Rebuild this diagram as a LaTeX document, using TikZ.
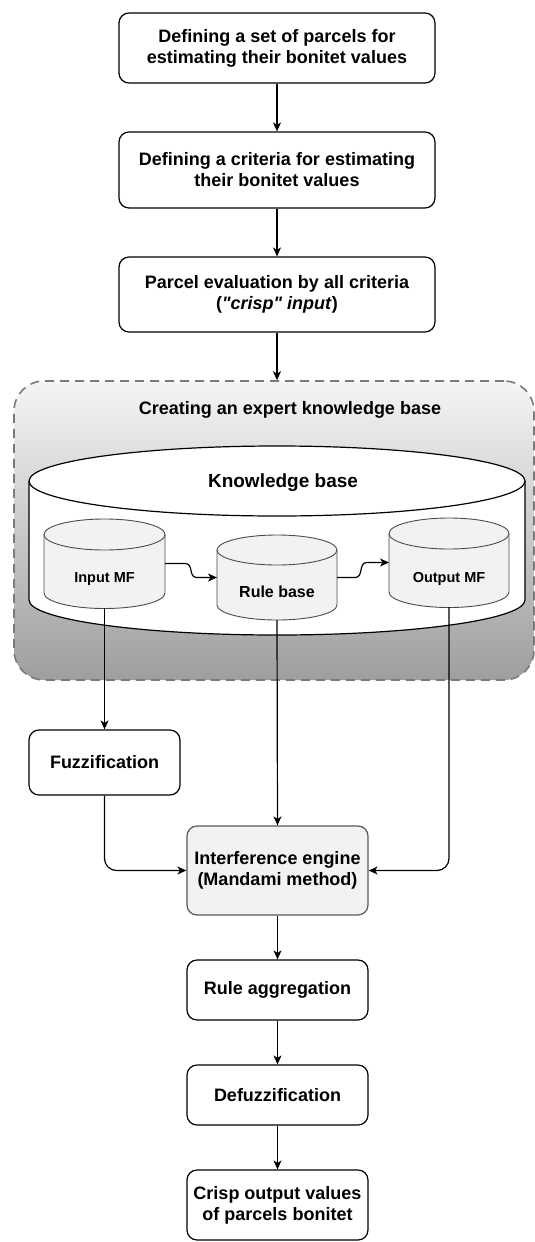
\documentclass[tikz,border=0pt]{standalone}
\usepackage{fontspec}
\setmainfont{Liberation Sans}[Ligatures=TeXOff]
\usetikzlibrary{arrows.meta,calc}
\definecolor{lightfill}{HTML}{F2F2F2}
\definecolor{dashgray}{HTML}{7A7A7A}
\newcommand\cylinderat[6]{%
  \path[#1,draw=none] ({#2-#3},#4) -- ({#2-#3},#5) .. controls ({#2-#3},{#5+0.5523*#6}) and ({#2-0.5523*#3},{#5+#6}) .. ({#2},{#5+#6}) .. controls ({#2+0.5523*#3},{#5+#6}) and ({#2+#3},{#5+0.5523*#6}) .. ({#2+#3},#5) -- ({#2+#3},#4) -- cycle;
  \path[#1,fill=none] ({#2-#3},#4) -- ({#2-#3},#5) .. controls ({#2-#3},{#5+0.5523*#6}) and ({#2-0.5523*#3},{#5+#6}) .. ({#2},{#5+#6}) .. controls ({#2+0.5523*#3},{#5+#6}) and ({#2+#3},{#5+0.5523*#6}) .. ({#2+#3},#5) -- ({#2+#3},#4);
  \path[#1] (#2,#4) ellipse [x radius=#3pt, y radius=#6pt];
}
\begin{document}
\begin{tikzpicture}[x=1pt,y=-1pt,
  box/.style={draw=black, line width=1.2pt, rounded corners=10pt, fill=white, align=center, inner sep=0pt,
    font=\bfseries\fontsize{18}{21}\selectfont},
  graybox/.style={box, fill=lightfill, draw=black!65},
  lbl/.style={font=\bfseries\fontsize{18}{21}\selectfont, inner sep=0pt, align=center},
  smalllbl/.style={font=\bfseries\fontsize{14.5}{17}\selectfont, inner sep=0pt},
  bigcyl/.style={draw=black, line width=1.2pt, fill=white},
  smallcyl/.style={draw=black!70, line width=0.9pt, fill=lightfill},
  region/.style={inner sep=0pt, outer sep=0pt},
  container/.style={draw=dashgray, line width=1.6pt, dash pattern=on 9pt off 6pt, rounded corners=30pt,
    top color=black!4, bottom color=black!38, inner sep=0pt},
  conn/.style={line width=1.2pt, -{Stealth[length=9pt,width=8pt,inset=2.5pt]}}
]
\useasboundingbox (0,0) rectangle (535,1242);

% top boxes
\node[box, minimum width=316pt, minimum height=70pt] (b1) at (277,48)
  {Defining a set of parcels for\\estimating their bonitet values};
\node[box, minimum width=316pt, minimum height=76pt] (b2) at (277,170)
  {Defining a criteria for estimating\\their bonitet values};
\node[box, minimum width=316pt, minimum height=75pt] (b3) at (277,294.5)
  {Parcel evaluation by all criteria\\(\textit{"crisp" input})};

% container
\node[container, minimum width=520pt, minimum height=299pt] (kb) at (274,530.5) {};
\node[lbl] (kbtitle) at (290,410) {Creating an expert knowledge base};

% big cylinder
\cylinderat{bigcyl}{277}{248}{481}{600}{35}
\node[region, minimum width=496pt, minimum height=189pt] (kbcyl) at (277,540.5) {};
\node[font=\bfseries\fontsize{19}{22}\selectfont, inner sep=0pt] (kbtext) at (283,483) {Knowledge base};

% small cylinders
\cylinderat{smallcyl}{104.5}{60.5}{534.5}{593}{15.5}
\cylinderat{smallcyl}{277}{60}{550}{605}{15}
\cylinderat{smallcyl}{449}{60}{533.5}{592}{15.5}
\node[region, minimum width=121pt, minimum height=89pt] (inmf) at (104.5,563.5) {};
\node[region, minimum width=120pt, minimum height=85pt] (rulebase) at (277,577.5) {};
\node[region, minimum width=120pt, minimum height=89pt] (outmf) at (449,562.5) {};
\node[smalllbl] (inmftext) at (104.5,579) {Input MF};
\node[font=\bfseries\fontsize{16}{19}\selectfont, inner sep=0pt] (rbtext) at (277,592) {Rule base};
\node[smalllbl] (outmftext) at (449,579) {Output MF};

% lower boxes
\node[box, minimum width=151pt, minimum height=65pt] (fuzz) at (104.5,762.5) {Fuzzification};
\node[graybox, minimum width=181pt, minimum height=89pt] (interf) at (277.5,870.5)
  {Interference engine\\(Mandami method)};
\node[box, minimum width=181pt, minimum height=60pt] (ragg) at (277.5,990) {Rule aggregation};
\node[box, minimum width=181pt, minimum height=60pt] (defuzz) at (277.5,1095) {Defuzzification};
\node[box, minimum width=181pt, minimum height=70pt] (crisp) at (277.5,1205)
  {Crisp output values\\of parcels bonitet};

% connectors
\draw[conn] (b1) -- (b2);
\draw[conn] (b2) -- (b3);
\draw[conn] (b3.south) -- (b3.south |- kb.north);
\draw[conn] (inmf.east) -- (185,563.5) .. controls (194,563.5) and (188,577.5) .. (197,577.5) -- (rulebase.west);
\draw[conn] (rulebase.east) -- (355,577.5) .. controls (364,577.5) and (358,562.5) .. (367,562.5) -- (outmf.west);
\draw[conn] (inmf.south) -- (fuzz.north);
\draw[conn] (rulebase.south) -- (interf.north);
\draw[conn, rounded corners=12pt] (fuzz.south) |- (interf.west);
\draw[conn, rounded corners=12pt] (outmf.south) |- (interf.east);
\draw[conn] (interf) -- (ragg);
\draw[conn] (ragg) -- (defuzz);
\draw[conn] (defuzz) -- (crisp);
\end{tikzpicture}
\end{document}
